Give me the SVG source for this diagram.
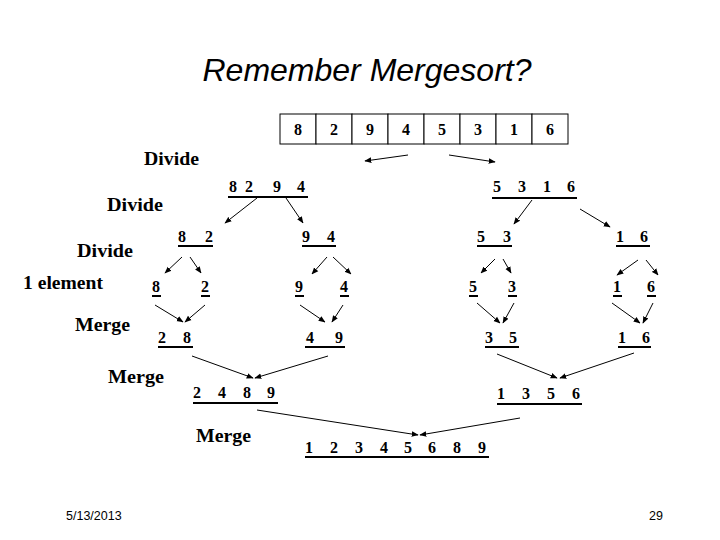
<svg xmlns="http://www.w3.org/2000/svg" width="720" height="540" viewBox="0 0 720 540">
<style>
.t{font-family:'Liberation Serif','DejaVu Serif','Times New Roman',serif;font-weight:bold;font-size:16px;fill:#000}
.lbl{font-family:'Liberation Serif','DejaVu Serif','Times New Roman',serif;font-weight:bold;font-size:19px;fill:#000}
.ul{stroke:#000;stroke-width:2}
.cell{fill:#fff;stroke:#000;stroke-width:1}
.c{stroke:#000;stroke-width:1;fill:none;marker-end:url(#ah)}
.ft{font-family:'Liberation Sans',Arial,sans-serif;font-size:12.5px;fill:#000}
</style>
<defs>
<marker id="ah" viewBox="0 0 10 10" refX="9" refY="5" markerWidth="7" markerHeight="7" markerUnits="userSpaceOnUse" orient="auto">
<path d="M0,1 L10,5 L0,9 z" fill="#000"/>
</marker>
</defs>
<rect width="720" height="540" fill="#fff"/>
<text x="367" y="81" text-anchor="middle" font-family="'Liberation Sans',Arial,sans-serif" font-style="italic" font-size="32">Remember Mergesort?</text>

<g id="array">
<rect class="cell" x="280" y="114" width="36" height="30"/>
<rect class="cell" x="316" y="114" width="36" height="30"/>
<rect class="cell" x="352" y="114" width="36" height="30"/>
<rect class="cell" x="388" y="114" width="36" height="30"/>
<rect class="cell" x="424" y="114" width="36" height="30"/>
<rect class="cell" x="460" y="114" width="36" height="30"/>
<rect class="cell" x="496" y="114" width="36" height="30"/>
<rect class="cell" x="532" y="114" width="36" height="30"/>
<text class="t" text-anchor="middle" y="135"><tspan x="298">8</tspan><tspan x="334">2</tspan><tspan x="370">9</tspan><tspan x="406">4</tspan><tspan x="442">5</tspan><tspan x="478">3</tspan><tspan x="514">1</tspan><tspan x="550">6</tspan></text>
</g>

<g id="labels">
<text class="lbl" x="144" y="165" textLength="55" lengthAdjust="spacingAndGlyphs">Divide</text>
<text class="lbl" x="107" y="211" textLength="56" lengthAdjust="spacingAndGlyphs">Divide</text>
<text class="lbl" x="77" y="257" textLength="56" lengthAdjust="spacingAndGlyphs">Divide</text>
<text class="lbl" x="23" y="289" textLength="80" lengthAdjust="spacingAndGlyphs">1 element</text>
<text class="lbl" x="75" y="331" textLength="55" lengthAdjust="spacingAndGlyphs">Merge</text>
<text class="lbl" x="108" y="383" textLength="56" lengthAdjust="spacingAndGlyphs">Merge</text>
<text class="lbl" x="196" y="442" textLength="55" lengthAdjust="spacingAndGlyphs">Merge</text>
</g>

<g id="n8294"><text class="t" y="192"><tspan x="229">8</tspan><tspan x="245">2</tspan><tspan x="273">9</tspan><tspan x="297">4</tspan></text><line class="ul" x1="228" y1="197" x2="308" y2="197"/></g>
<g id="n5316"><text class="t" y="192"><tspan x="493">5</tspan><tspan x="518">3</tspan><tspan x="543">1</tspan><tspan x="567">6</tspan></text><line class="ul" x1="492" y1="198" x2="577" y2="198"/></g>

<g id="n82"><text class="t" y="242"><tspan x="178">8</tspan><tspan x="205">2</tspan></text><line class="ul" x1="178" y1="246" x2="213" y2="246"/></g>
<g id="n94"><text class="t" y="242"><tspan x="302">9</tspan><tspan x="327">4</tspan></text><line class="ul" x1="302" y1="246" x2="336" y2="246"/></g>
<g id="n53"><text class="t" y="242"><tspan x="477">5</tspan><tspan x="503">3</tspan></text><line class="ul" x1="477" y1="246" x2="512" y2="246"/></g>
<g id="n16a"><text class="t" y="242"><tspan x="616">1</tspan><tspan x="640">6</tspan></text><line class="ul" x1="616" y1="246" x2="650" y2="246"/></g>

<g id="s8"><text class="t" x="152" y="292">8</text><line class="ul" x1="152" y1="296" x2="161" y2="296"/></g>
<g id="s2"><text class="t" x="201" y="292">2</text><line class="ul" x1="201" y1="296" x2="210" y2="296"/></g>
<g id="s9"><text class="t" x="295" y="292">9</text><line class="ul" x1="295" y1="296" x2="304" y2="296"/></g>
<g id="s4"><text class="t" x="340" y="292">4</text><line class="ul" x1="340" y1="296" x2="349" y2="296"/></g>
<g id="s5"><text class="t" x="469" y="292">5</text><line class="ul" x1="469" y1="296" x2="478" y2="296"/></g>
<g id="s3"><text class="t" x="508" y="292">3</text><line class="ul" x1="508" y1="296" x2="517" y2="296"/></g>
<g id="s1"><text class="t" x="613" y="292">1</text><line class="ul" x1="613" y1="296" x2="622" y2="296"/></g>
<g id="s6"><text class="t" x="647" y="292">6</text><line class="ul" x1="647" y1="296" x2="656" y2="296"/></g>

<g id="m28"><text class="t" y="343"><tspan x="158">2</tspan><tspan x="183">8</tspan></text><line class="ul" x1="158" y1="347" x2="193" y2="347"/></g>
<g id="m49"><text class="t" y="343"><tspan x="306">4</tspan><tspan x="335">9</tspan></text><line class="ul" x1="305" y1="347" x2="345" y2="347"/></g>
<g id="m35"><text class="t" y="343"><tspan x="485">3</tspan><tspan x="509">5</tspan></text><line class="ul" x1="485" y1="347" x2="519" y2="347"/></g>
<g id="m16"><text class="t" y="343"><tspan x="618">1</tspan><tspan x="642">6</tspan></text><line class="ul" x1="618" y1="347" x2="651" y2="347"/></g>

<g id="m2489"><text class="t" y="398"><tspan x="193">2</tspan><tspan x="218">4</tspan><tspan x="243">8</tspan><tspan x="267">9</tspan></text><line class="ul" x1="193" y1="403" x2="278" y2="403"/></g>
<g id="m1356"><text class="t" y="399"><tspan x="497">1</tspan><tspan x="522">3</tspan><tspan x="547">5</tspan><tspan x="572">6</tspan></text><line class="ul" x1="497" y1="404" x2="582" y2="404"/></g>

<g id="final"><text class="t" y="453"><tspan x="305">1</tspan><tspan x="330">2</tspan><tspan x="355">3</tspan><tspan x="380">4</tspan><tspan x="404">5</tspan><tspan x="428">6</tspan><tspan x="453">8</tspan><tspan x="478">9</tspan></text><line class="ul" x1="305" y1="457" x2="489" y2="457"/></g>

<g id="connectors">
<line class="c" x1="408" y1="155" x2="365" y2="161"/>
<line class="c" x1="449" y1="155" x2="495" y2="162"/>
<line class="c" x1="257" y1="198" x2="225" y2="223"/>
<line class="c" x1="286" y1="198" x2="303" y2="223"/>
<line class="c" x1="532" y1="200" x2="514" y2="224"/>
<line class="c" x1="580" y1="209" x2="610" y2="227"/>
<line class="c" x1="182" y1="257" x2="165" y2="273"/>
<line class="c" x1="190" y1="257" x2="201" y2="273"/>
<line class="c" x1="327" y1="257" x2="312" y2="274"/>
<line class="c" x1="333" y1="257" x2="351" y2="274"/>
<line class="c" x1="495" y1="259" x2="481" y2="273"/>
<line class="c" x1="503" y1="259" x2="511" y2="273"/>
<line class="c" x1="638" y1="260" x2="617" y2="275"/>
<line class="c" x1="646" y1="260" x2="658" y2="275"/>
<line class="c" x1="155" y1="305" x2="183" y2="322"/>
<line class="c" x1="205" y1="305" x2="185" y2="322"/>
<line class="c" x1="300" y1="305" x2="325" y2="322"/>
<line class="c" x1="343" y1="305" x2="332" y2="322"/>
<line class="c" x1="477" y1="303" x2="500" y2="323"/>
<line class="c" x1="514" y1="303" x2="503" y2="323"/>
<line class="c" x1="612" y1="303" x2="640" y2="323"/>
<line class="c" x1="653" y1="303" x2="643" y2="323"/>
<line class="c" x1="192" y1="356" x2="253" y2="378"/>
<line class="c" x1="328" y1="356" x2="255" y2="378"/>
<line class="c" x1="497" y1="354" x2="557" y2="378"/>
<line class="c" x1="634" y1="353" x2="560" y2="378"/>
<line class="c" x1="257" y1="410" x2="418" y2="435"/>
<line class="c" x1="520" y1="418" x2="420" y2="435"/>
</g>

<text class="ft" x="66" y="520">5/13/2013</text>
<text class="ft" x="649" y="520">29</text>
</svg>
